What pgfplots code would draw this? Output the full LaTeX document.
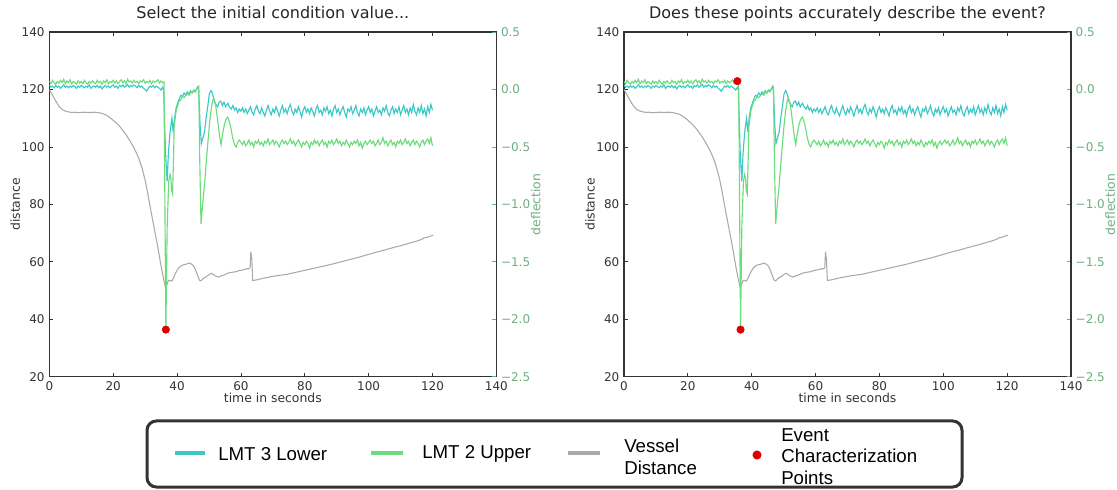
\documentclass[border=0pt]{standalone}
\usepackage{fontspec}
\usepackage{pgfplots}
\usepackage{pgfplotstable}
\pgfplotsset{compat=1.18}
\setmainfont{DejaVu Sans}
\newfontfamily\legfont{Liberation Sans}

\definecolor{lmtcyan}{HTML}{3CC8C8}
\definecolor{lmtgreen}{HTML}{6CDC7C}
\definecolor{vesselgray}{HTML}{AAAAAA}
\definecolor{eventred}{HTML}{DD0000}
\definecolor{axisgray}{HTML}{333333}
\definecolor{defgreen}{HTML}{6DAE80}

% LMT 3 Lower (deflection)
\pgfplotstableread{
x y
0 0.04
0.5 0.02
1 0.03
1.5 0.015
2 0.035
2.5 0.02
3 0.03
3.5 0.01
4 0.025
4.5 0.04
5 0.02
5.5 0.03
6 0.015
6.5 0.03
7 0.02
7.5 0.035
8 0.025
8.5 0.01
9 0.03
9.5 0.02
10 0.035
10.5 0.025
11 0.015
11.5 0.03
12 0.02
12.5 0.04
13 0.01
13.5 0.025
14 0.03
14.5 0.02
15 0.035
15.5 0.015
16 0.03
16.5 0.005
17 0.025
17.5 0.035
18 0.02
18.5 0.03
19 0.015
19.5 0.03
20 0.04
20.5 0.02
21 0.03
21.5 0.01
22 0.035
22.5 0.025
23 0.04
23.5 0.02
24 0.03
24.5 0.045
25 0.02
25.5 0.035
26 0.025
26.5 0.04
27 0.03
27.5 0.015
28 0.035
28.5 0.02
29 0.03
29.5 0.01
30 0.0
30.5 -0.015
31 0.01
31.5 0.03
32 0.02
32.5 0.035
33 0.015
33.5 0.03
34 0.02
34.5 0.01
35 -0.005
35.5 0.02
35.8 0.0
36.4 -0.55
36.9 -0.80
37.3 -0.55
37.8 -0.37
38.4 -0.25
38.8 -0.37
39.2 -0.25
39.7 -0.16
40.2 -0.12
40.7 -0.08
41.2 -0.05
41.7 -0.06
42.2 -0.03
42.7 -0.05
43.2 -0.02
43.7 -0.04
44.2 -0.01
44.7 -0.03
45.2 -0.005
45.7 -0.02
46.2 0.01
46.5 0.025
46.8 -0.01
47.2 -0.30
47.6 -0.47
48.1 -0.42
48.6 -0.37
49.1 -0.25
49.6 -0.15
50.1 -0.04
50.6 -0.01
50.9 -0.02
51.3 -0.06
51.7 -0.11
52.2 -0.13
52.7 -0.15
53.2 -0.11
53.7 -0.10
54.2 -0.14
54.7 -0.11
55.2 -0.15
55.9 -0.12
56.4 -0.15
57 -0.17
57.5 -0.14
58 -0.18
58.5 -0.16
59 -0.2
59.5 -0.17
60 -0.19
60.5 -0.16
61 -0.2
61.5 -0.17
62 -0.21
62.5 -0.18
63 -0.15
63.5 -0.2
64 -0.22
64.5 -0.17
65 -0.14
65.5 -0.19
66 -0.21
66.5 -0.16
67 -0.2
67.5 -0.23
68 -0.18
68.5 -0.14
69 -0.19
69.5 -0.22
70 -0.17
70.5 -0.2
71 -0.15
71.5 -0.19
72 -0.23
72.5 -0.18
73 -0.14
73.5 -0.2
74 -0.17
74.5 -0.21
75 -0.16
75.5 -0.13
76 -0.19
76.5 -0.22
77 -0.17
77.5 -0.2
78 -0.15
78.5 -0.19
79 -0.24
79.5 -0.18
80 -0.15
80.5 -0.2
81 -0.17
81.5 -0.21
82 -0.16
82.5 -0.19
83 -0.23
83.5 -0.17
84 -0.14
84.5 -0.2
85 -0.18
85.5 -0.22
86 -0.16
86.5 -0.19
87 -0.15
87.5 -0.21
88 -0.18
88.5 -0.23
89 -0.17
89.5 -0.14
90 -0.2
90.5 -0.17
91 -0.22
91.5 -0.18
92 -0.15
92.5 -0.2
93 -0.24
93.5 -0.17
94 -0.19
94.5 -0.15
95 -0.21
95.5 -0.18
96 -0.14
96.5 -0.2
97 -0.23
97.5 -0.17
98 -0.2
98.5 -0.16
99 -0.22
99.5 -0.18
100 -0.15
100.5 -0.2
101 -0.17
101.5 -0.23
102 -0.19
102.5 -0.15
103 -0.2
103.5 -0.18
104 -0.22
104.5 -0.16
105 -0.19
105.5 -0.14
106 -0.2
106.5 -0.23
107 -0.18
107.5 -0.15
108 -0.21
108.5 -0.17
109 -0.2
109.5 -0.15
110 -0.22
110.5 -0.18
111 -0.14
111.5 -0.2
112 -0.17
112.5 -0.22
113 -0.16
113.5 -0.2
114 -0.13
114.5 -0.19
115 -0.22
115.5 -0.16
116 -0.2
116.5 -0.14
117 -0.21
117.5 -0.17
118 -0.23
118.5 -0.15
119 -0.2
119.5 -0.13
120 -0.18
}\lowertab

% LMT 2 Upper (deflection)
\pgfplotstableread{
x y
0 0.07
0.5 0.05
1 0.08
1.5 0.06
2 0.045
2.5 0.07
3 0.055
3.5 0.08
4 0.06
4.5 0.09
5 0.05
5.5 0.075
6 0.06
6.5 0.085
7 0.05
7.5 0.07
8 0.06
8.5 0.045
9 0.075
9.5 0.055
10 0.07
10.5 0.05
11 0.08
11.5 0.06
12 0.045
12.5 0.07
13 0.055
13.5 0.075
14 0.06
14.5 0.05
15 0.08
15.5 0.06
16 0.07
16.5 0.045
17 0.075
17.5 0.06
18 0.085
18.5 0.05
19 0.07
19.5 0.06
20 0.08
20.5 0.055
21 0.075
21.5 0.05
22 0.07
22.5 0.085
23 0.06
23.5 0.075
24 0.05
24.5 0.09
25 0.065
25.5 0.075
26 0.055
26.5 0.08
27 0.06
27.5 0.07
28 0.05
28.5 0.075
29 0.065
29.5 0.085
30 0.055
30.5 0.07
31 0.06
31.5 0.08
32 0.05
32.5 0.075
33 0.06
33.5 0.07
34 0.085
34.5 0.055
35 0.075
35.5 0.06
35.9 0.065
36.2 -1.0
36.5 -2.09
36.9 -1.2
37.4 -0.80
37.8 -0.74
38.1 -0.78
38.3 -0.88
38.6 -0.91
38.9 -0.6
39.1 -0.33
39.4 -0.25
39.7 -0.19
40.2 -0.14
40.7 -0.10
41.2 -0.09
41.7 -0.06
42.2 -0.07
42.8 -0.05
43.3 -0.04
43.8 -0.05
44.3 -0.02
44.8 -0.03
45.3 -0.01
45.9 -0.005
46.4 0.01
46.8 0.025
47.1 -0.6
47.5 -1.17
48 -1.0
48.6 -0.83
49.1 -0.65
49.6 -0.48
50.1 -0.32
50.6 -0.19
51.1 -0.1
51.5 -0.075
52 -0.12
52.5 -0.22
53 -0.33
53.4 -0.42
53.8 -0.48
54.3 -0.38
54.8 -0.31
55.3 -0.26
55.9 -0.24
56.4 -0.28
56.9 -0.34
57.4 -0.42
58 -0.48
58.5 -0.5
59 -0.46
59.5 -0.44
60 -0.46
60.5 -0.48
61 -0.45
61.5 -0.49
62 -0.47
62.5 -0.44
63 -0.48
63.5 -0.46
64 -0.5
64.5 -0.45
65 -0.47
65.5 -0.44
66 -0.48
66.5 -0.46
67 -0.49
67.5 -0.45
68 -0.47
68.5 -0.43
69 -0.48
69.5 -0.46
70 -0.44
70.5 -0.48
71 -0.45
71.5 -0.47
72 -0.5
72.5 -0.46
73 -0.44
73.5 -0.47
74 -0.45
74.5 -0.48
75 -0.46
75.5 -0.43
76 -0.47
76.5 -0.45
77 -0.49
77.5 -0.46
78 -0.44
78.5 -0.47
79 -0.5
79.5 -0.46
80 -0.48
80.5 -0.45
81 -0.47
81.5 -0.51
82 -0.46
82.5 -0.48
83 -0.44
83.5 -0.47
84 -0.45
84.5 -0.49
85 -0.46
85.5 -0.44
86 -0.48
86.5 -0.46
87 -0.5
87.5 -0.45
88 -0.47
88.5 -0.44
89 -0.48
89.5 -0.46
90 -0.43
90.5 -0.47
91 -0.45
91.5 -0.49
92 -0.46
92.5 -0.48
93 -0.44
93.5 -0.47
94 -0.5
94.5 -0.46
95 -0.48
95.5 -0.45
96 -0.47
96.5 -0.44
97 -0.49
97.5 -0.46
98 -0.51
98.5 -0.47
99 -0.45
99.5 -0.48
100 -0.46
100.5 -0.44
101 -0.47
101.5 -0.45
102 -0.49
102.5 -0.47
103 -0.44
103.5 -0.48
104 -0.46
104.5 -0.42
105 -0.47
105.5 -0.45
106 -0.49
106.5 -0.46
107 -0.44
107.5 -0.48
108 -0.46
108.5 -0.5
109 -0.45
109.5 -0.47
110 -0.44
110.5 -0.48
111 -0.46
111.5 -0.43
112 -0.47
112.5 -0.45
113 -0.49
113.5 -0.46
114 -0.44
114.5 -0.48
115 -0.45
115.5 -0.47
116 -0.5
116.5 -0.46
117 -0.44
117.5 -0.48
118 -0.45
118.5 -0.43
119 -0.47
119.5 -0.42
120 -0.49
}\uppertab

% Vessel distance
\pgfplotstableread{
x y
0 120
1 118
2 116
3 114.2
4 113
5 112.5
6 112.2
7 112
8 112.1
9 111.9
10 112
11 112.1
12 112
13 112
14 112.1
15 112
16 111.8
17 111.5
18 111
19 110.2
20 109.3
21 108.3
22 107.2
23 105.8
24 104.3
25 102.6
26 100.7
27 98.6
28 96.1
29 92.8
30 88.5
30.8 84
31.6 79
32.8 72
34 65
35 58.5
35.8 54
36.4 51
36.8 52
37.3 53.5
37.8 53.5
38.4 53.3
39 54.7
39.5 56
40 57
40.6 58
41.5 58.8
42.9 59.2
44 59.6
45.1 58.7
45.7 57.5
46.2 56
46.7 54.5
47.1 53.5
47.5 53.4
47.9 53.8
48.5 54.5
49 54.7
50 55.5
50.7 56
51.3 55.7
51.8 55.2
53 54.7
54 55.2
55 55.6
56.3 56.2
57.5 56.4
58.6 56.6
59.5 57
60.8 57.2
61.8 57.6
62.5 57.6
62.9 58
63.1 63.5
63.4 61
63.7 53.5
65.3 53.8
67 54.3
69.8 54.9
72 55.3
74.2 55.6
77 56.3
79.8 57
82.6 57.7
85.4 58.4
88.2 59.1
91 59.9
93.8 60.7
96.6 61.5
99.4 62.4
102.2 63.3
105 64.1
107.8 65
110.6 65.8
113.4 66.7
115 67.2
116.8 67.9
117.2 68.3
118.5 68.6
120.2 69.3
}\vesseltab

\pgfplotsset{
  panel/.style={
    scale only axis, width=335.25pt, height=258.5pt, anchor=south west,
    xmin=0, xmax=140, ymin=20, ymax=140,
    xtick={0,20,...,140}, ytick={20,40,...,140},
    tick align=inside, major tick length=3pt,
    xtick pos=both, ytick pos=left,
    axis line style={draw=axisgray, line width=0.9pt},
    tick style={draw=axisgray, line width=0.6pt},
    tick label style={font=\fontsize{9}{10}\selectfont, text=axisgray},
    /pgf/number format/assume math mode=true,
    xlabel={time in seconds}, ylabel={distance},
    label style={font=\fontsize{9.3}{11}\selectfont, text=axisgray},
    xlabel style={at={(axis description cs:0.5,0)}, anchor=center, yshift=-16pt},
    ylabel style={at={(axis description cs:-0.076,0.5)}, anchor=center},
    title style={font=\fontsize{12}{14}\selectfont, text=black!85, at={(axis description cs:0.5,1)}, anchor=base, yshift=4.5pt},
  },
  twin/.style={
    scale only axis, width=335.25pt, height=258.5pt, anchor=south west,
    xmin=0, xmax=140, ymin=-2.5, ymax=0.5,
    axis x line=none, axis y line*=right,
    tick align=inside, major tick length=3pt,
    ytick={-2.5,-2,-1.5,-1,-0.5,0,0.5},
    yticklabels={−2.5,−2.0,−1.5,−1.0,−0.5,0.0,0.5},
    axis line style={draw=axisgray, line width=0.9pt},
    ytick style={draw=defgreen, line width=0.6pt},
    yticklabel style={font=\fontsize{9}{10}\selectfont, text=defgreen},
    ylabel={deflection},
    ylabel style={font=\fontsize{9.3}{11}\selectfont, text=defgreen, at={(axis description cs:1.088,0.5)}, anchor=center},
  },
}

\begin{document}
\begin{tikzpicture}
\useasboundingbox (0,0) rectangle (837.75pt,366.75pt);

% left panel
\begin{axis}[panel, at={(37pt,84.2pt)}, title={Select the initial condition value...}]
\addplot[vesselgray, line width=0.8pt] table {\vesseltab};
\end{axis}
\begin{axis}[twin, at={(37pt,84.2pt)}]
\addplot[lmtcyan, line width=0.85pt] table {\lowertab};
\addplot[lmtgreen, line width=0.85pt] table {\uppertab};
\addplot[only marks, mark=*, mark size=2.8pt, color=eventred] coordinates {(36.5,-2.09)};
\end{axis}

% right panel
\begin{axis}[panel, at={(468pt,84.2pt)}, title={Does these points accurately describe the event?}]
\addplot[vesselgray, line width=0.8pt] table {\vesseltab};
\end{axis}
\begin{axis}[twin, at={(468pt,84.2pt)}]
\addplot[lmtcyan, line width=0.85pt] table {\lowertab};
\addplot[lmtgreen, line width=0.85pt] table {\uppertab};
\addplot[only marks, mark=*, mark size=2.8pt, color=eventred] coordinates {(35.5,0.073) (36.5,-2.09)};
\end{axis}

% legend
\draw[axisgray, line width=2.25pt, rounded corners=7pt] (110.25pt,1.5pt) rectangle (721.5pt,51pt);
\draw[lmtcyan, line width=3pt] (131.25pt,27pt) -- (153.75pt,27pt);
\node[anchor=west, inner sep=0pt, font=\legfont\fontsize{14}{16.5}\selectfont] at (163.5pt,26pt) {LMT 3 Lower};
\draw[lmtgreen, line width=3pt] (278.25pt,27pt) -- (302.25pt,27pt);
\node[anchor=west, inner sep=0pt, font=\legfont\fontsize{14}{16.5}\selectfont] at (316.5pt,26pt) {LMT 2 Upper};
\draw[vesselgray, line width=3pt] (426pt,27pt) -- (450pt,27pt);
\node[anchor=west, inner sep=0pt, align=left, font=\legfont\fontsize{14}{16.5}\selectfont] at (468pt,24.25pt) {Vessel\\Distance};
\fill[eventred] (567.75pt,25.5pt) circle (3.4pt);
\node[anchor=west, inner sep=0pt, align=left, font=\legfont\fontsize{14}{16}\selectfont] at (585.75pt,24.25pt) {Event\\Characterization\\Points};
\end{tikzpicture}
\end{document}
